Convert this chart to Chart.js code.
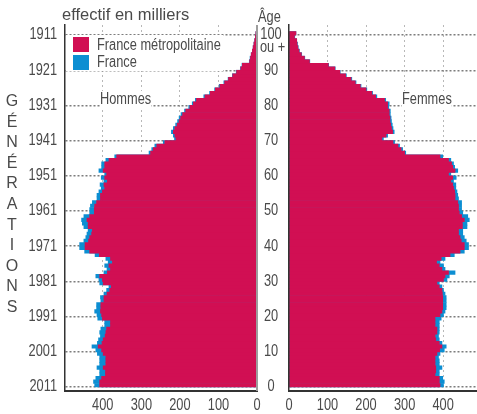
<!DOCTYPE html>
<html lang="fr">
<head>
<meta charset="utf-8">
<script src="https://cdn.jsdelivr.net/npm/chart.js@4.4.1/dist/chart.umd.min.js"></script>
<style>
  body { margin: 0; background: #fff; }
  #wrap { position: relative; width: 477px; height: 414px; overflow: hidden;
          font-family: 'Liberation Sans', Arial, sans-serif; color: #4a4a4a; }
  canvas { position: absolute; top: 0; }
  #men { left: 0; }
  #women { left: 253px; }
  .txt { position: absolute; font-size: 16px; line-height: 16px; white-space: nowrap;
         transform: scaleX(0.8); transform-origin: 0 0; }
  #title { left: 62px; top: 6px; font-size: 16.5px; transform: none; }
  #legend { position: absolute; left: 66px; top: 35px; width: 157px; height: 36px; background: #fff; }
  .box { position: absolute; left: 7px; width: 16px; height: 15px; }
  .gen { position: absolute; left: 3px; top: 91px; width: 18px; text-align: center;
         font-size: 16px; line-height: 20.6px; }
</style>
</head>
<body>
<div id="wrap">
  <canvas id="men" width="262" height="414"></canvas>
  <canvas id="women" width="224" height="414"></canvas>
  <div id="title" class="txt">effectif en milliers</div>
  <div class="txt" style="left:258px;top:9px;">Âge</div>
  <div class="txt" style="left:260px;top:38.5px;">ou +</div>
  <div class="txt" style="left:100px;top:90.5px;background:#fff;">Hommes</div>
  <div class="txt" style="left:402px;top:90.5px;background:#fff;">Femmes</div>
  <div id="legend">
    <div class="box" style="top:2px;background:#d10f53;"></div>
    <div class="txt" style="left:31px;top:1.5px;">France métropolitaine</div>
    <div class="box" style="top:20px;background:#0c8ed2;"></div>
    <div class="txt" style="left:31px;top:19px;">France</div>
  </div>
  <div class="gen">G<br>É<br>N<br>É<br>R<br>A<br>T<br>I<br>O<br>N<br>S</div>
</div>
<script>
// ages 0 .. 100 (100 = 100 ou +)
var ages = [];
for (var a = 0; a <= 100; a++) ages.push(a);

// effectif en milliers, by age 0 .. 100
var menMetro = [408,408,403,393,393,399,392,392,392,399, 403,412,402,399,394,392,390,380,380,401,
  403,406,405,405,397,397,389,382,378,399, 401,408,388,380,384,375,380,409,434,446,
  446,437,434,429,427,438,438,441,434,422, 422,421,416,406,406,401,395,397,388,395,
  390,399,395,395,384,364,276,269,260,239, 210,213,217,213,207,202,198,193,185,174,
  165,157,135,121,108,96,84,74,63,53, 42,38,19,17,15,12,10,8,6,4, 3];
var menFrance = [421,424,418,408,408,415,408,408,408,414, 418,428,414,411,406,408,405,395,395,413,
  415,421,416,416,405,406,397,390,384,408, 410,418,397,389,395,386,392,420,447,460,
  460,449,444,441,438,449,453,455,449,434, 434,432,427,415,415,410,404,407,397,404,
  395,410,403,403,392,369,280,273,265,243, 214,217,222,217,211,206,202,197,188,177,
  168,160,138,123,110,98,86,75,64,54, 43,39,20,18,15,12,10,8,6,4, 3];
var womenMetro = [392,390,390,379,381,381,379,379,379,384, 391,397,390,381,379,384,384,379,379,379,
  392,397,399,399,399,399,398,397,390,384, 401,405,414,397,390,383,395,418,444,455,
  455,447,444,440,440,450,450,455,448,442, 440,440,438,431,431,430,427,425,420,425,
  414,431,425,422,414,392,300,291,283,270, 241,252,269,266,264,262,262,260,260,256,
  256,248,225,215,200,185,172,161,147,132, 119,102,53,40,32,26,23,21,20,14, 18];
var womenFrance = [401,403,399,390,390,397,390,390,388,392, 403,408,397,390,388,390,390,390,390,395,
  401,405,408,408,408,408,405,401,397,390, 410,416,431,405,401,392,405,429,455,466,
  466,460,455,451,451,462,462,468,464,451, 448,448,448,440,438,436,433,433,427,434,
  420,438,430,427,420,399,303,295,287,274, 245,256,273,270,268,266,265,263,263,259,
  260,251,228,217,202,187,174,163,149,133, 120,103,54,41,33,27,24,22,20,15, 18];

// tick labels
var valueTicks = [0, 100, 200, 300, 400];
var decadeAges = [0,10,20,30,40,50,60,70,80,90,100];
var generationLabels = ['2011','2001','1991','1981','1971','1961','1951','1941','1931','1921','1911'];
var ageLabels = ['0','10','20','30','40','50','60','70','80','90','100'];

var PINK = '#d10f53', BLUE = '#0c8ed2', TEXT = '#4a4a4a', AXIS = '#333';

function datasets(metro, france) {
  return [
    { label: 'France métropolitaine', data: metro, backgroundColor: PINK, grouped: false,
      barPercentage: 1, categoryPercentage: 1, borderWidth: 0 },
    { label: 'France', data: france, backgroundColor: BLUE, grouped: false,
      barPercentage: 1, categoryPercentage: 1, borderWidth: 0 }
  ];
}

function yScale(width) {
  return {
    type: 'linear', position: 'left', min: -1.64, max: 102.36, offset: false,
    afterFit: function (scale) { scale.width = width; },
    afterBuildTicks: function (scale) {
      // dotted lines sit on the lower edge of each decade bar
      scale.ticks = decadeAges.map(function (v) { return { value: v - 0.5 }; });
    },
    ticks: { display: false },
    grid: { color: '#7d7d7d', lineWidth: 1.5, drawTicks: false, offset: false },
    border: { color: AXIS, width: 1.5, dash: [2, 2], z: 1 }
  };
}

function xScale(max, reverse) {
  return {
    type: 'linear', min: 0, max: max, reverse: reverse,
    afterFit: function (scale) { scale.height = 23; },
    afterBuildTicks: function (scale) {
      scale.ticks = valueTicks.map(function (v) { return { value: v }; });
    },
    ticks: { display: false },
    grid: {
      drawTicks: false, lineWidth: 1,
      color: function (ctx) { return ctx.tick && ctx.tick.value === 0 ? 'rgba(0,0,0,0)' : '#b8b8b8'; }
    },
    border: { color: AXIS, width: 2, dash: [2, 3] }
  };
}

function squeezeText(ctx, text, px, py, align, base) {
  ctx.save();
  ctx.translate(px, py);
  ctx.scale(0.8, 1);
  ctx.textAlign = align;
  ctx.textBaseline = base;
  ctx.fillText(text, 0, 0);
  ctx.restore();
}

// narrow tick labels, like the condensed type of the original
var condensedLabels = {
  id: 'condensedLabels',
  afterDraw: function (chart, args, opts) {
    var ctx = chart.ctx, x = chart.scales.x, y = chart.scales.y;
    ctx.save();
    ctx.fillStyle = TEXT;
    ctx.font = '16px "Liberation Sans", Arial, sans-serif';
    x.ticks.forEach(function (t) {
      squeezeText(ctx, String(t.value), x.getPixelForValue(t.value), x.top + 19, 'center', 'alphabetic');
    });
    y.ticks.forEach(function (t, i) {
      squeezeText(ctx, opts.labels[i], opts.labelX, y.getPixelForValue(t.value), opts.align, 'middle');
    });
    ctx.restore();
  }
};

// gray zero line of the men panel, drawn over the bars
var zeroLine = {
  id: 'zeroLine',
  afterDatasetsDraw: function (chart) {
    var ctx = chart.ctx, area = chart.chartArea, px = chart.scales.x.getPixelForValue(0);
    ctx.save();
    ctx.strokeStyle = '#9d9d9d';
    ctx.lineWidth = 2;
    ctx.beginPath();
    ctx.moveTo(px, area.top);
    ctx.lineTo(px, area.bottom);
    ctx.stroke();
    ctx.restore();
  }
};

new Chart(document.getElementById('men'), {
  type: 'bar',
  data: { labels: ages, datasets: datasets(menMetro, menFrance) },
  options: {
    responsive: false, animation: false, devicePixelRatio: 1, indexAxis: 'y',
    layout: { padding: { top: 25, right: 5, left: 0, bottom: 0 } },
    plugins: {
      legend: { display: false }, tooltip: { enabled: false },
      condensedLabels: { labels: generationLabels, labelX: 57, align: 'right' }
    },
    scales: { x: xScale(498, true), y: yScale(65) }
  },
  plugins: [zeroLine, condensedLabels]
});

new Chart(document.getElementById('women'), {
  type: 'bar',
  data: { labels: ages, datasets: datasets(womenMetro, womenFrance) },
  options: {
    responsive: false, animation: false, devicePixelRatio: 1, indexAxis: 'y',
    layout: { padding: { top: 25, right: 0, left: 0, bottom: 0 } },
    plugins: {
      legend: { display: false }, tooltip: { enabled: false },
      condensedLabels: { labels: ageLabels, labelX: 18, align: 'center' }
    },
    scales: { x: xScale(488, false), y: yScale(36) }
  },
  plugins: [condensedLabels]
});
</script>
</body>
</html>
